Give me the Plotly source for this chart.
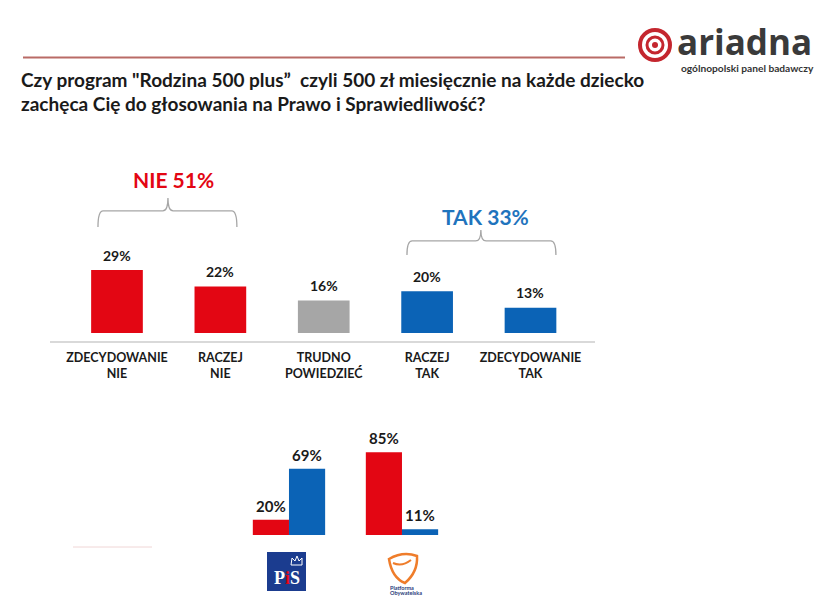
import plotly.graph_objects as go

# ---------------- data ----------------
title_line1 = 'Czy program "Rodzina 500 plus”\u00a0 czyli 500 zł miesięcznie na każde dziecko'
title_line2 = 'zachęca Cię do głosowania na Prawo i Sprawiedliwość?'

categories = ["ZDECYDOWANIE<br>NIE", "RACZEJ<br>NIE", "TRUDNO<br>POWIEDZIEĆ",
              "RACZEJ<br>TAK", "ZDECYDOWANIE<br>TAK"]
values = [29, 22, 16, 20, 13]
category_group = ["NIE", "NIE", "NEUTRAL", "TAK", "TAK"]

group_names = ["NIE", "TAK"]
group_totals = [51, 33]

parties = ["PiS", "PO"]
nie_by_party = [20, 85]
tak_by_party = [69, 11]

# ---------------- styles ----------------
W, H = 824, 616
RED = "#e30613"
BLUE = "#0b63b6"
GRAY = "#a6a6a6"
color_map = {"NIE": RED, "NEUTRAL": GRAY, "TAK": BLUE}
FONT = "Lato"


def px(x):
    return x / W


def py(y):
    return 1 - y / H


fig = go.Figure()

fig.add_trace(go.Bar(
    x=categories, y=values, width=0.5,
    marker=dict(color=[color_map[g] for g in category_group], line=dict(width=0)),
    xaxis="x", yaxis="y", hoverinfo="skip", showlegend=False))

fig.add_trace(go.Bar(
    x=parties, y=nie_by_party, width=0.32, offset=-0.32,
    marker=dict(color=RED, line=dict(width=0)),
    xaxis="x2", yaxis="y2", hoverinfo="skip", showlegend=False))
fig.add_trace(go.Bar(
    x=parties, y=tak_by_party, width=0.32, offset=0.0,
    marker=dict(color=BLUE, line=dict(width=0)),
    xaxis="x2", yaxis="y2", hoverinfo="skip", showlegend=False))

annotations = []
shapes = []

# title
for txt, yy in [(title_line1, 79), (title_line2, 104)]:
    annotations.append(dict(text=txt, x=px(19), y=py(yy), xref="paper", yref="paper",
                            xanchor="left", yanchor="middle", showarrow=False,
                            font=dict(family=FONT, size=19, color="#1a1a1a", weight="bold")))

# red rule under header
shapes.append(dict(type="line", xref="paper", yref="paper", x0=px(23), x1=px(625),
                   y0=py(57.5), y1=py(57.5), line=dict(color="#b96b66", width=2)))

# logo icon
LOGO = "#c4262e"
cx, cy = 655, 45
for r, w in [(15, 4), (8, 3)]:
    shapes.append(dict(type="circle", xref="paper", yref="paper",
                       x0=px(cx - r), x1=px(cx + r), y0=py(cy + r), y1=py(cy - r),
                       line=dict(color=LOGO, width=w)))
shapes.append(dict(type="circle", xref="paper", yref="paper",
                   x0=px(cx - 3), x1=px(cx + 3), y0=py(cy + 3), y1=py(cy - 3),
                   fillcolor=LOGO, line=dict(color=LOGO, width=0)))
annotations.append(dict(text="ariadna", x=px(675), y=py(41.5), xref="paper", yref="paper",
                        xanchor="left", yanchor="middle", showarrow=False,
                        font=dict(family="Open Sans", size=35, color="#3a3a3a", weight="bold")))
annotations.append(dict(text="ogólnopolski panel badawczy", x=px(747), y=py(68), xref="paper",
                        yref="paper", xanchor="center", yanchor="middle", showarrow=False,
                        font=dict(family=FONT, size=10.2, color="#333333", weight="bold")))

# value labels top chart
for c, v in zip(categories, values):
    annotations.append(dict(text=f"{v}%", x=c, y=v, xref="x", yref="y", yshift=15,
                            xanchor="center", yanchor="middle", showarrow=False,
                            font=dict(family=FONT, size=14, color="#1a1a1a", weight="bold")))

# brackets + group labels
BR = "#a6a6a6"


def bracket(xl, xr, xp, yb, yh, yt):
    dx = 0.05
    return (f"M {xl},{yb} Q {xl},{yh} {xl+dx},{yh} L {xp-dx},{yh} Q {xp},{yh} {xp},{yt} "
            f"Q {xp},{yh} {xp+dx},{yh} L {xr-dx},{yh} Q {xr},{yh} {xr},{yb}")


shapes.append(dict(type="path", xref="x", yref="y",
                   path=bracket(-0.184, 1.16, 0.493, 47.3, 54.2, 59.7),
                   line=dict(color=BR, width=1.3)))
shapes.append(dict(type="path", xref="x", yref="y",
                   path=bracket(2.805, 4.246, 3.52, 35.4, 41.4, 46.1),
                   line=dict(color=BR, width=1.3)))
group_pos = [(0.551, 67.4, RED), (3.569, 52.0, "#1f74bd")]
for name, tot, (gx, gy, gc) in zip(group_names, group_totals, group_pos):
    annotations.append(dict(text=f"{name} {tot}%", x=gx, y=gy, xref="x", yref="y",
                            xanchor="center", yanchor="middle", showarrow=False,
                            font=dict(family=FONT, size=21, color=gc, weight="bold")))

# value labels bottom chart
for i, (n, t) in enumerate(zip(nie_by_party, tak_by_party)):
    for xv, v in [(i - 0.16, n), (i + 0.16, t)]:
        annotations.append(dict(text=f"{v}%", x=xv, y=v, xref="x2", yref="y2", yshift=14,
                                xanchor="center", yanchor="middle", showarrow=False,
                                font=dict(family=FONT, size=15, color="#1a1a1a", weight="bold")))

# PiS logo
shapes.append(dict(type="rect", xref="paper", yref="paper", x0=px(267), x1=px(306),
                   y0=py(591), y1=py(552), fillcolor="#1b3c8f", line=dict(width=0)))
annotations.append(dict(text="P<span style='color:#e30613'>i</span>S", x=px(286.5), y=py(578),
                        xref="paper", yref="paper", xanchor="center", yanchor="middle",
                        showarrow=False,
                        font=dict(family="Liberation Serif", size=18, color="white", weight="bold")))
shapes.append(dict(type="path", xref="paper", yref="paper",
                   path=(f"M {px(291)},{py(565)} L {px(292)},{py(558)} L {px(295)},{py(561)} "
                         f"L {px(297)},{py(556)} L {px(299)},{py(561)} L {px(302)},{py(558)} "
                         f"L {px(302)},{py(565)} Z"),
                   line=dict(color="white", width=1), fillcolor="rgba(0,0,0,0)"))

# PO logo
ORANGE = "#ef7d2b"
shapes.append(dict(type="path", xref="paper", yref="paper",
                   path=(f"M {px(389)},{py(559)} Q {px(403)},{py(551)} {px(417)},{py(556)} "
                         f"Q {px(418)},{py(572)} {px(405)},{py(583)} "
                         f"Q {px(392)},{py(578)} {px(389)},{py(559)} Z"),
                   line=dict(color=ORANGE, width=2.5), fillcolor="rgba(0,0,0,0)"))
shapes.append(dict(type="path", xref="paper", yref="paper",
                   path=(f"M {px(393)},{py(563)} Q {px(402)},{py(567)} {px(411)},{py(560)}"),
                   line=dict(color=ORANGE, width=2)))
for txt, yy in [("Platforma", 587.5), ("Obywatelska", 592.5)]:
    annotations.append(dict(text=txt, x=px(388), y=py(yy), xref="paper", yref="paper",
                            xanchor="left", yanchor="middle", showarrow=False,
                            font=dict(family=FONT, size=5.5, color="#2a3a7a", weight="bold")))

# faint line bottom-left
shapes.append(dict(type="line", xref="paper", yref="paper", x0=px(73), x1=px(152),
                   y0=py(547), y1=py(547), line=dict(color="#f0d6d6", width=1)))

fig.update_layout(
    width=W, height=H, margin=dict(l=0, r=0, t=0, b=0),
    paper_bgcolor="white", plot_bgcolor="rgba(0,0,0,0)",
    showlegend=False, barmode="group",
    annotations=annotations, shapes=shapes,
    xaxis=dict(domain=[px(50), px(595)], range=[-0.648, 4.624], type="category",
               anchor="free", position=py(342), showline=True, linecolor="#d9d9d9",
               linewidth=1.5, ticks="outside", ticklen=4, tickcolor="rgba(0,0,0,0)",
               showgrid=False, zeroline=False,
               tickfont=dict(family=FONT, size=12.5, color="#1a1a1a", weight="bold"),
               fixedrange=True),
    yaxis=dict(domain=[py(333), py(150)], range=[2.19, 80.16], visible=False, anchor="x",
               fixedrange=True),
    xaxis2=dict(domain=[px(230), px(470)], range=[-0.522, 1.602], type="category",
                anchor="y2", visible=False, fixedrange=True),
    yaxis2=dict(domain=[py(535), py(420)], range=[5.42, 115.9], visible=False, anchor="x2",
                fixedrange=True),
)

fig.write_html("out.html", config={"displayModeBar": False},
               post_script="document.body.style.margin='0';document.body.style.overflow='hidden';")
